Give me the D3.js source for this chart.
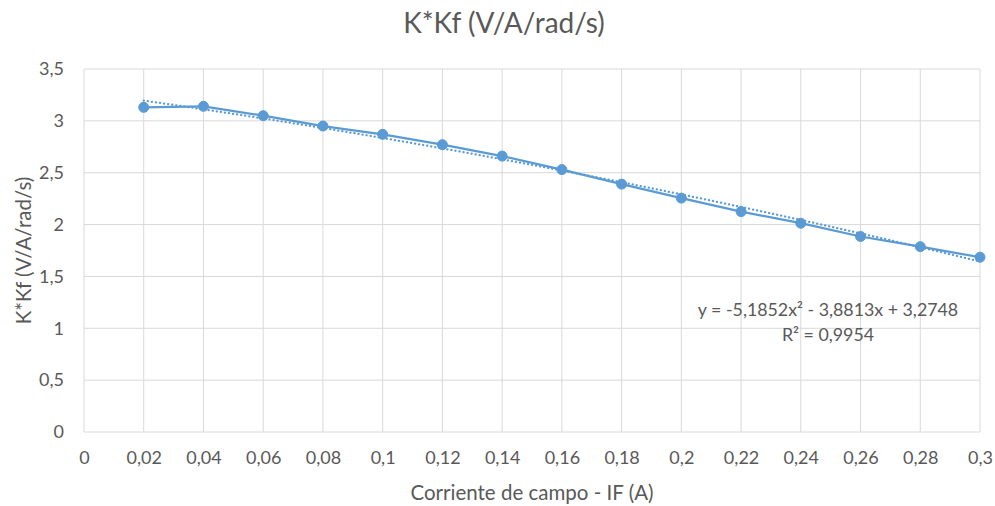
<!DOCTYPE html>
<html>
<head>
<meta charset="utf-8">
<script src="https://cdn.jsdelivr.net/npm/d3@7"></script>
<style>
  body { margin: 0; background: #fff; }
  text { font-family: Lato, "Open Sans", sans-serif; fill: #595959; }
</style>
</head>
<body>
<div id="chart"></div>
<script>
// Data
const corriente = [0.02, 0.04, 0.06, 0.08, 0.1, 0.12, 0.14, 0.16, 0.18, 0.2, 0.22, 0.24, 0.26, 0.28, 0.3];
const kkf = [3.13, 3.14, 3.05, 2.95, 2.87, 2.77, 2.66, 2.53, 2.39, 2.255, 2.125, 2.013, 1.885, 1.787, 1.685];
const xTicks = [0, 0.02, 0.04, 0.06, 0.08, 0.1, 0.12, 0.14, 0.16, 0.18, 0.2, 0.22, 0.24, 0.26, 0.28, 0.3];
const yTicks = [0, 0.5, 1, 1.5, 2, 2.5, 3, 3.5];
// trendline coefficients as printed on the chart
const trendCoef = [-5.1852, -3.8813, 3.2748];
const trendLabel = ['y = -5,1852x² - 3,8813x + 3,2748', 'R² = 0,9954'];

const width = 995, height = 506;
const margin = {top: 69, right: 15, bottom: 74, left: 84};

const svg = d3.select('#chart').append('svg')
  .attr('width', width)
  .attr('height', height);

const x = d3.scaleLinear().domain([0, 0.3]).range([margin.left, width - margin.right]);
const y = d3.scaleLinear().domain([0, 3.5]).range([height - margin.bottom, margin.top]);

const fmt = d => String(d).replace('.', ',');

// gridlines
svg.append('g')
  .selectAll('line')
  .data(yTicks)
  .join('line')
  .attr('x1', x(0)).attr('x2', x(0.3))
  .attr('y1', d => y(d)).attr('y2', d => y(d))
  .attr('stroke', '#d9d9d9').attr('stroke-width', 1);

svg.append('g')
  .selectAll('line')
  .data(xTicks)
  .join('line')
  .attr('y1', y(0)).attr('y2', y(3.5))
  .attr('x1', d => x(d)).attr('x2', d => x(d))
  .attr('stroke', '#d9d9d9').attr('stroke-width', 1);

// axes (labels only)
const xAxis = svg.append('g')
  .attr('transform', `translate(0,${y(0)})`)
  .call(d3.axisBottom(x).tickValues(xTicks).tickFormat(fmt).tickSize(0).tickPadding(19));
xAxis.select('.domain').remove();

const yAxis = svg.append('g')
  .attr('transform', `translate(${x(0)},0)`)
  .call(d3.axisLeft(y).tickValues(yTicks).tickFormat(fmt).tickSize(0).tickPadding(20));
yAxis.select('.domain').remove();

svg.selectAll('.tick text')
  .style('font-family', 'Lato, sans-serif')
  .style('font-size', '18px')
  .attr('fill', '#595959');

// trendline (dotted)
const trendX = d3.range(0.02, 0.3001, 0.002);
const poly = v => trendCoef[0] * v * v + trendCoef[1] * v + trendCoef[2];
svg.append('path')
  .datum(trendX)
  .attr('fill', 'none')
  .attr('stroke', '#5b9bd5')
  .attr('stroke-width', 2.25)
  .attr('stroke-dasharray', '0.1 4')
  .attr('stroke-linecap', 'round')
  .attr('d', d3.line().x(d => x(d)).y(d => y(poly(d))));

// series line
const pts = corriente.map((c, i) => [c, kkf[i]]);
svg.append('path')
  .datum(pts)
  .attr('fill', 'none')
  .attr('stroke', '#5b9bd5')
  .attr('stroke-width', 2.25)
  .attr('stroke-linejoin', 'round')
  .attr('d', d3.line().x(d => x(d[0])).y(d => y(d[1])));

svg.append('g')
  .selectAll('circle')
  .data(pts)
  .join('circle')
  .attr('cx', d => x(d[0]))
  .attr('cy', d => y(d[1]))
  .attr('r', 5)
  .attr('fill', '#5b9bd5')
  .attr('stroke', '#5b9bd5')
  .attr('stroke-width', 1);

// trendline label
svg.append('g')
  .selectAll('text')
  .data(trendLabel)
  .join('text')
  .attr('x', 828)
  .attr('y', (d, i) => 316 + i * 25)
  .attr('text-anchor', 'middle')
  .style('font-size', '17.8px')
  .text(d => d);

// title
svg.append('text')
  .attr('x', 504)
  .attr('y', 33)
  .attr('text-anchor', 'middle')
  .style('font-size', '28px')
  .text('K*Kf (V/A/rad/s)');

// axis titles
svg.append('text')
  .attr('x', (x(0) + x(0.3)) / 2)
  .attr('y', 500)
  .attr('text-anchor', 'middle')
  .style('font-size', '20.5px')
  .text('Corriente de campo - IF (A)');

svg.append('text')
  .attr('transform', `translate(31,${(y(0) + y(3.5)) / 2}) rotate(-90)`)
  .attr('text-anchor', 'middle')
  .style('font-size', '20.5px')
  .text('K*Kf (V/A/rad/s)');
</script>
</body>
</html>
